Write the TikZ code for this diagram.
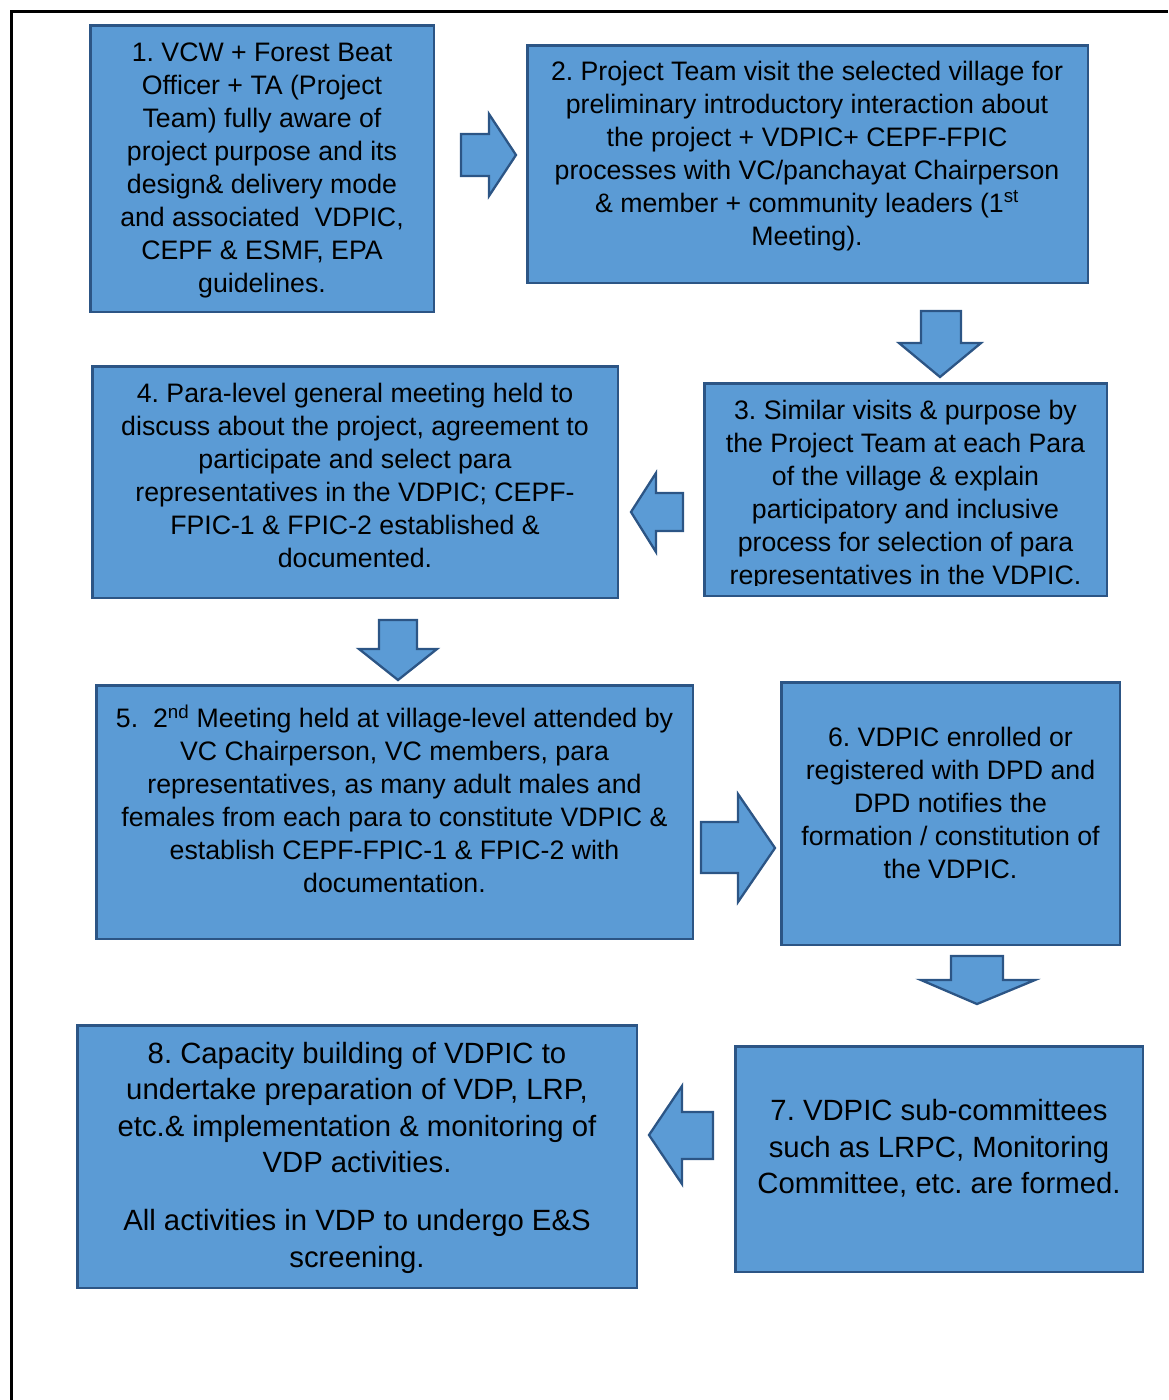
\documentclass[tikz,border=0pt]{standalone}
\usepackage{fontspec}
\setmainfont{Liberation Sans}
\frenchspacing
\definecolor{boxfill}{HTML}{5B9BD5}
\definecolor{boxline}{HTML}{2C5585}
\tikzset{
  stage/.style={draw=boxline, fill=boxfill, line width=2.5pt, rectangle, inner sep=0pt},
  txt/.style={align=center, inner sep=0pt, text=black, font=\frenchspacing\fontsize{26.7}{33}\selectfont},
  txtbig/.style={align=center, inner sep=0pt, text=black, font=\frenchspacing\fontsize{29.3}{36.4}\selectfont},
  blockarrow/.style={draw=boxline, fill=boxfill, line width=2.3pt, line join=miter},
  frameline/.style={draw=black, line width=3pt}
}
\newcommand\stagebox[5]{%
  \node[stage, minimum width={#4-#2-2.5}, minimum height={#5-#3-2.5}] (#1) at ({(#2+#4)/2},{(#3+#5)/2}) {};}
\begin{document}
\begin{tikzpicture}[x=1pt,y=-1pt]
\useasboundingbox (0,0) rectangle (1168,1400);
% frame
\draw[frameline] (11.5,1400) -- (11.5,11.5) -- (1168,11.5);

% boxes
\stagebox{b1}{89}{24}{435}{313}
\stagebox{b2}{526}{44}{1089}{284}
\stagebox{b3}{703}{382}{1108}{597}
\stagebox{b4}{91}{365}{619}{599}
\stagebox{b5}{95}{684}{694}{940}
\stagebox{b6}{780}{681}{1121}{946}
\stagebox{b7}{734}{1045}{1144}{1273}
\stagebox{b8}{76}{1024}{638}{1289}

% texts
\node[txt] (t1) at (262,169.9) {\strut 1. VCW + Forest Beat\\\strut Officer + TA (Project\\\strut Team) fully aware of\\\strut project purpose and its\\\strut design\& delivery mode\\\strut and associated~~VDPIC,\\\strut CEPF \& ESMF, EPA\\\strut guidelines.};
\node[txt] (t2) at (807,155.9) {\strut 2. Project Team visit the selected village for\\\strut preliminary introductory interaction about\\\strut the project + VDPIC+ CEPF-FPIC\\\strut processes with VC/panchayat Chairperson\\\strut \& member + community leaders (1\textsuperscript{st}\\\strut Meeting).};
\begin{scope}
\clip (704,384) rectangle (1107,585.5);
\node[txt] (t3) at (905.5,494.9) {\strut 3. Similar visits \& purpose by\\\strut the Project Team at each Para\\\strut of the village \& explain\\\strut participatory and inclusive\\\strut process for selection of para\\\strut representatives in the VDPIC.};
\end{scope}
\node[txt] (t4) at (355,477.9) {\strut 4. Para-level general meeting held to\\\strut discuss about the project, agreement to\\\strut participate and select para\\\strut representatives in the VDPIC; CEPF-\\\strut FPIC-1 \& FPIC-2 established \&\\\strut documented.};
\node[txt] (t5) at (394.5,803.4) {\strut 5.~~2\textsuperscript{nd} Meeting held at village-level attended by\\\strut VC Chairperson, VC members, para\\\strut representatives, as many adult males and\\\strut females from each para to constitute VDPIC \&\\\strut establish CEPF-FPIC-1 \& FPIC-2 with\\\strut documentation.};
\node[txt] (t6) at (950.5,805.4) {\strut 6. VDPIC enrolled or\\\strut registered with DPD and\\\strut DPD notifies the\\\strut formation / constitution of\\\strut the VDPIC.};
\node[txtbig] (t7) at (939,1150) {\strut 7. VDPIC sub-committees\\\strut such as LRPC, Monitoring\\\strut Committee, etc. are formed.};
\node[txtbig] (t8) at (357,1158) {\strut 8. Capacity building of VDPIC to\\\strut undertake preparation of VDP, LRP,\\\strut etc.\& implementation \& monitoring of\\\strut VDP activities.\\[21.6pt]\strut All activities in VDP to undergo E\&S\\\strut screening.};

% block arrows
\path[blockarrow] (461,134) -- (489,134) -- (489,114) -- (516,155) -- (489,196) -- (489,176) -- (461,176) -- cycle;
\path[blockarrow] (921,311) -- (961,311) -- (961,343) -- (981,343) -- (940,377) -- (899,343) -- (921,343) -- cycle;
\path[blockarrow] (683,493) -- (656,493) -- (656,473) -- (631,512) -- (656,552) -- (656,531) -- (683,531) -- cycle;
\path[blockarrow] (379,620) -- (417,620) -- (417,649) -- (437,649) -- (398,680) -- (359,649) -- (379,649) -- cycle;
\path[blockarrow] (701,822) -- (738,822) -- (738,794) -- (775,848) -- (738,902) -- (738,873) -- (701,873) -- cycle;
\path[blockarrow] (951,956) -- (1003,956) -- (1003,980) -- (1035,980) -- (977,1004) -- (921,980) -- (951,980) -- cycle;
\path[blockarrow] (713,1112) -- (682,1112) -- (682,1086) -- (649,1135) -- (682,1184) -- (682,1159) -- (713,1159) -- cycle;
\end{tikzpicture}
\end{document}
